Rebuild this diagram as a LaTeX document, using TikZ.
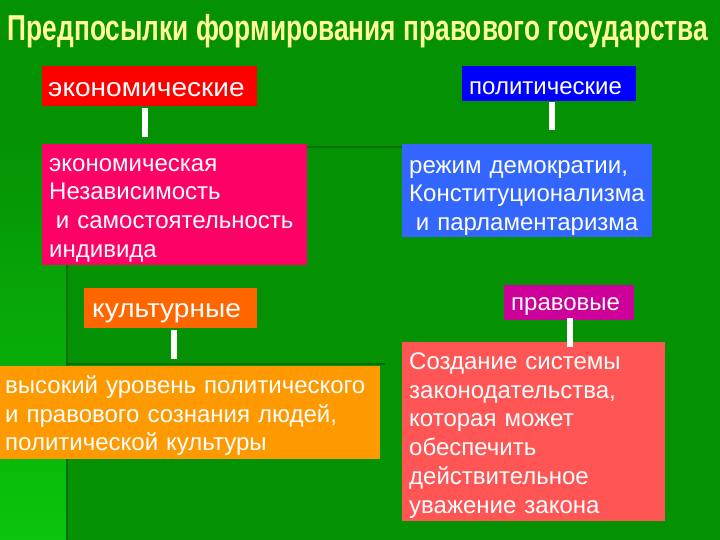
\documentclass[tikz,border=0pt]{standalone}
\usepackage{fontspec}
\setmainfont{Liberation Sans}
\newfontfamily\headfont{Liberation Sans}[FakeStretch=1.08]
\definecolor{bg}{HTML}{049104}
\definecolor{bgleft}{HTML}{0CC40C}
\definecolor{darkln}{HTML}{037003}
\definecolor{titlecol}{HTML}{FFFF99}
\definecolor{ecoc}{HTML}{FF0000}
\definecolor{polc}{HTML}{0000FF}
\definecolor{ecoboxc}{HTML}{FF0066}
\definecolor{rezc}{HTML}{3366FF}
\definecolor{kultc}{HTML}{FF6600}
\definecolor{vysc}{HTML}{FF9900}
\definecolor{pravc}{HTML}{CC0099}
\definecolor{sozdc}{HTML}{FF5555}
\begin{document}
\begin{tikzpicture}[x=1pt,y=-1pt,
  box/.style={rectangle, inner ysep=0pt, text=white, anchor=north west, align=left},
  head/.style={box, font=\headfont\fontsize{26}{28}\selectfont},
  headsm/.style={box, font=\fontsize{24}{28}\selectfont},
  body/.style={box, font=\fontsize{24}{28.7}\selectfont},
  bar/.style={draw=white, line width=6pt},
  darkline/.style={draw=darkln, line width=2pt}]
\useasboundingbox (0,0) rectangle (720,540);
\fill[bg] (0,0) rectangle (720,540);
\shade[top color=bg, bottom color=bgleft] (0,135) rectangle (66,540);
\draw[darkline] (67,262) -- (67,540);
\draw[darkline] (67,364) -- (385,364);
\draw[darkline] (307,147) -- (402,147);
\node[text=titlecol, inner sep=0pt] (title) at (358,31) {\resizebox{700pt}{\totalheight}{\bfseries\fontsize{28}{30}\selectfont Предпосылки формирования правового государства}};
\node[head, fill=ecoc, inner xsep=6pt, text width=203, text height=30, text depth=10] (eco) at (42,66) {экономические};
\node[headsm, fill=polc, inner xsep=7pt, text width=160, text height=28, text depth=7] (pol) at (462,66) {политические};
\node[body, fill=ecoboxc, inner xsep=7pt, text width=251, text height=27, text depth=94] (ecobox) at (42,144) {экономическая\\Независимость\\\hspace*{0.28em}и самостоятельность\\индивида};
\node[body, fill=rezc, inner xsep=7pt, text width=236, text height=29, text depth=64] (rez) at (402,144) {режим демократии,\\Конституционализма\\\hspace*{0.28em}и парламентаризма};
\node[head, fill=kultc, inner xsep=8pt, text width=157, text height=29, text depth=11] (kult) at (84,288) {культурные};
\node[headsm, fill=pravc, inner xsep=7pt, text width=116, text height=25, text depth=10] (prav) at (504,285) {правовые};
\node[body, fill=vysc, inner xsep=5pt, text width=370, text height=27.3, text depth=65.7] (vys) at (0,366) {высокий уровень политического\\и правового сознания людей,\\политической культуры};
\node[body, fill=sozdc, inner xsep=7pt, text width=249, text height=27.3, text depth=151.7] (sozd) at (402,342) {Создание системы\\законодательства,\\которая может\\обеспечить\\действительное\\уважение закона};
\draw[bar] ([xshift=-4.5pt,yshift=-2pt]eco.south) -- ([xshift=-4.5pt,yshift=7pt]eco.south |- ecobox.north);
\draw[bar] ([xshift=3pt,yshift=-1pt]pol.south) -- ([xshift=3pt,yshift=14pt]pol.south |- rez.north);
\draw[bar] ([xshift=3.5pt,yshift=-2pt]kult.south) -- ([xshift=3.5pt,yshift=7pt]kult.south |- vys.north);
\draw[bar] ([xshift=1pt,yshift=2pt]prav.south) -- ([xshift=1pt,yshift=-5pt]prav.south |- sozd.north);
\end{tikzpicture}
\end{document}
